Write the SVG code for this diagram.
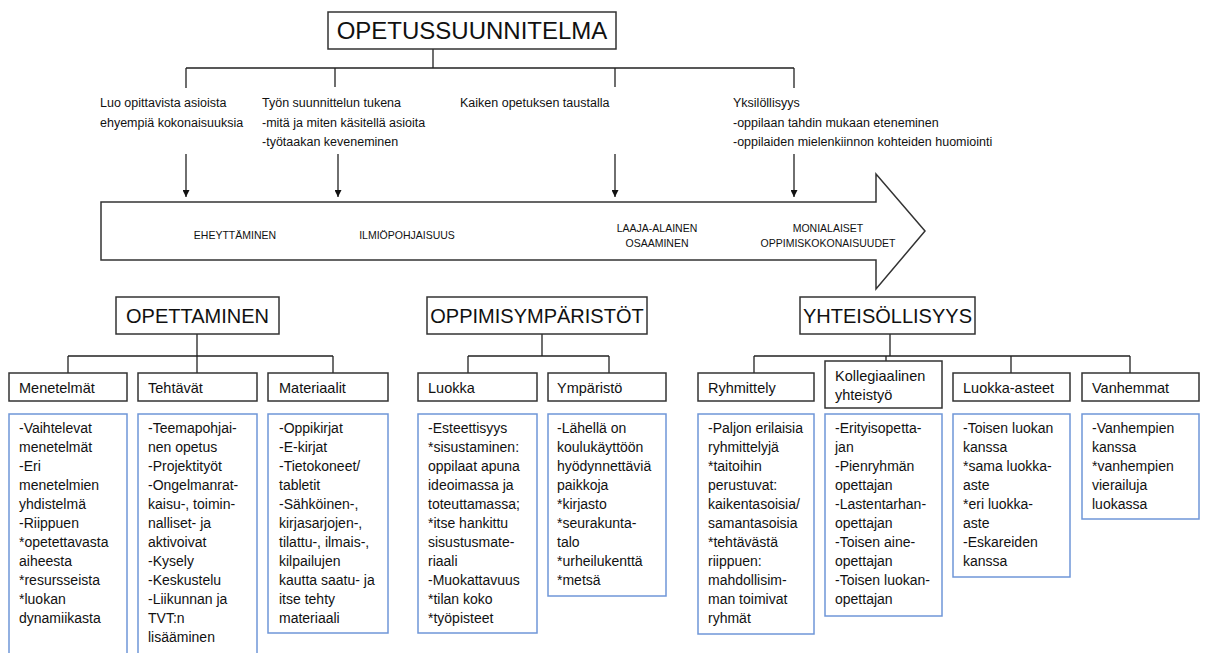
<svg xmlns="http://www.w3.org/2000/svg" width="1211" height="653" viewBox="0 0 1211 653">
  <style>
    text { font-family: "Liberation Sans", Arial, sans-serif; fill: #111; }
    .title { font-size: 24px; }
    .big { font-size: 20px; }
    .note { font-size: 12.5px; }
    .band { font-size: 10.5px; }
    .head { font-size: 14.5px; }
    .item { font-size: 14px; }
    .box { fill: #fff; stroke: #333; stroke-width: 1.5; }
    .list { fill: #fff; stroke: #6f96d8; stroke-width: 1.5; }
    .wire { fill: none; stroke: #222; stroke-width: 1.3; }
  </style>
  <defs>
    <marker id="tip" viewBox="0 0 10 10" refX="10" refY="5" markerWidth="7" markerHeight="7" markerUnits="userSpaceOnUse" orient="auto">
      <path d="M0,0 L10,5 L0,10 z" fill="#111"/>
    </marker>
  </defs>

  <rect width="1211" height="653" fill="#fff"/>

  <!-- connectors -->
  <g id="connectors">
    <!-- curriculum to the four notes -->
    <path class="wire" d="M433,49 V68 M186,68 H794 M186,68 V88 M335,68 V87 M615,68 V87 M794,68 V88"/>
    <!-- notes down to the band -->
    <path class="wire" d="M186,154 V197" marker-end="url(#tip)"/>
    <path class="wire" d="M338,154 V197" marker-end="url(#tip)"/>
    <path class="wire" d="M615,154 V197" marker-end="url(#tip)"/>
    <path class="wire" d="M794,154 V197" marker-end="url(#tip)"/>
    <!-- teaching tree -->
    <path class="wire" d="M197,334 V373 M68,356 H333 M68,356 V373 M333,356 V373"/>
    <!-- learning environments tree -->
    <path class="wire" d="M542,334 V356 M468,356 H609 M468,356 V373 M609,356 V373"/>
    <!-- community tree -->
    <path class="wire" d="M890,334 V356 M754,356 H1130 M754,356 V373 M886,356 V361 M1011,356 V373 M1130,356 V373"/>
  </g>

  <!-- top node -->
  <g id="opetussuunnitelma">
    <rect class="box" x="328" y="12" width="288" height="37"/>
    <text class="title" x="472" y="39" text-anchor="middle">OPETUSSUUNNITELMA</text>
  </g>

  <!-- notes under the curriculum -->
  <g id="note-eheyttaminen">
    <text class="note" x="100" y="106.5">Luo opittavista asioista</text>
    <text class="note" x="100" y="126.5">ehyempiä kokonaisuuksia</text>
  </g>
  <g id="note-ilmiopohjaisuus">
    <text class="note" x="262" y="106.5">Työn suunnittelun tukena</text>
    <text class="note" x="262" y="126.5">-mitä ja miten käsitellä asioita</text>
    <text class="note" x="262" y="146">-työtaakan keveneminen</text>
  </g>
  <g id="note-laaja-alainen">
    <text class="note" x="460" y="106.5">Kaiken opetuksen taustalla</text>
  </g>
  <g id="note-monialaiset">
    <text class="note" x="733" y="106.5">Yksilöllisyys</text>
    <text class="note" x="733" y="126.5">-oppilaan tahdin mukaan eteneminen</text>
    <text class="note" x="733" y="146">-oppilaiden mielenkiinnon kohteiden huomiointi</text>
  </g>

  <!-- wide arrow band -->
  <g id="band">
    <path d="M101,202 H876 V174 L925,231 L876,289 V260 H101 Z" fill="#fff" stroke="#333" stroke-width="1.5"/>
    <text class="band" x="235" y="239" text-anchor="middle">EHEYTTÄMINEN</text>
    <text class="band" x="407" y="239" text-anchor="middle">ILMIÖPOHJAISUUS</text>
    <text class="band" x="657" y="232" text-anchor="middle">LAAJA-ALAINEN</text>
    <text class="band" x="657" y="247" text-anchor="middle">OSAAMINEN</text>
    <text class="band" x="828" y="232" text-anchor="middle">MONIALAISET</text>
    <text class="band" x="828" y="247" text-anchor="middle">OPPIMISKOKONAISUUDET</text>
  </g>

  <!-- second level -->
  <g id="opettaminen">
    <rect class="box" x="116" y="297" width="163" height="37"/>
    <text class="big" x="197.5" y="323" text-anchor="middle">OPETTAMINEN</text>
  </g>
  <g id="oppimisymparistot">
    <rect class="box" x="427" y="297" width="220" height="37"/>
    <text class="big" x="537" y="323" text-anchor="middle">OPPIMISYMPÄRISTÖT</text>
  </g>
  <g id="yhteisollisyys">
    <rect class="box" x="800" y="297" width="175" height="37"/>
    <text class="big" x="887.5" y="323" text-anchor="middle">YHTEISÖLLISYYS</text>
  </g>

  <!-- teaching -->
  <g id="menetelmat">
    <rect class="box" x="9" y="373" width="118" height="28"/>
    <text class="head" x="19" y="393">Menetelmät</text>
    <rect class="list" x="9" y="414" width="118" height="250"/>
    <text class="item" x="19" y="433">-Vaihtelevat<tspan x="19" dy="19">menetelmät</tspan><tspan x="19" dy="19">-Eri</tspan><tspan x="19" dy="19">menetelmien</tspan><tspan x="19" dy="19">yhdistelmä</tspan><tspan x="19" dy="19">-Riippuen</tspan><tspan x="19" dy="19">*opetettavasta</tspan><tspan x="19" dy="19">aiheesta</tspan><tspan x="19" dy="19">*resursseista</tspan><tspan x="19" dy="19">*luokan</tspan><tspan x="19" dy="19">dynamiikasta</tspan></text>
  </g>
  <g id="tehtavat">
    <rect class="box" x="138" y="373" width="119" height="28"/>
    <text class="head" x="148" y="393">Tehtävät</text>
    <rect class="list" x="138" y="414" width="119" height="250"/>
    <text class="item" x="148" y="433">-Teemapohjai-<tspan x="148" dy="19">nen opetus</tspan><tspan x="148" dy="19">-Projektityöt</tspan><tspan x="148" dy="19">-Ongelmanrat-</tspan><tspan x="148" dy="19">kaisu-, toimin-</tspan><tspan x="148" dy="19">nalliset- ja</tspan><tspan x="148" dy="19">aktivoivat</tspan><tspan x="148" dy="19">-Kysely</tspan><tspan x="148" dy="19">-Keskustelu</tspan><tspan x="148" dy="19">-Liikunnan ja</tspan><tspan x="148" dy="19">TVT:n</tspan><tspan x="148" dy="19">lisääminen</tspan></text>
  </g>
  <g id="materiaalit">
    <rect class="box" x="268" y="373" width="120" height="28"/>
    <text class="head" x="279" y="393">Materiaalit</text>
    <rect class="list" x="268" y="414" width="120" height="219"/>
    <text class="item" x="279" y="433">-Oppikirjat<tspan x="279" dy="19">-E-kirjat</tspan><tspan x="279" dy="19">-Tietokoneet/</tspan><tspan x="279" dy="19">tabletit</tspan><tspan x="279" dy="19">-Sähköinen-,</tspan><tspan x="279" dy="19">kirjasarjojen-,</tspan><tspan x="279" dy="19">tilattu-, ilmais-,</tspan><tspan x="279" dy="19">kilpailujen</tspan><tspan x="279" dy="19">kautta saatu- ja</tspan><tspan x="279" dy="19">itse tehty</tspan><tspan x="279" dy="19">materiaali</tspan></text>
  </g>

  <!-- learning environments -->
  <g id="luokka">
    <rect class="box" x="418" y="373" width="119" height="28"/>
    <text class="head" x="428" y="393">Luokka</text>
    <rect class="list" x="418" y="414" width="119" height="219"/>
    <text class="item" x="428" y="433">-Esteettisyys<tspan x="428" dy="19">*sisustaminen:</tspan><tspan x="428" dy="19">oppilaat apuna</tspan><tspan x="428" dy="19">ideoimassa ja</tspan><tspan x="428" dy="19">toteuttamassa;</tspan><tspan x="428" dy="19">*itse hankittu</tspan><tspan x="428" dy="19">sisustusmate-</tspan><tspan x="428" dy="19">riaali</tspan><tspan x="428" dy="19">-Muokattavuus</tspan><tspan x="428" dy="19">*tilan koko</tspan><tspan x="428" dy="19">*työpisteet</tspan></text>
  </g>
  <g id="ymparisto">
    <rect class="box" x="548" y="373" width="118" height="28"/>
    <text class="head" x="557" y="393">Ympäristö</text>
    <rect class="list" x="548" y="414" width="118" height="182"/>
    <text class="item" x="557" y="433">-Lähellä on<tspan x="557" dy="19">koulukäyttöön</tspan><tspan x="557" dy="19">hyödynnettäviä</tspan><tspan x="557" dy="19">paikkoja</tspan><tspan x="557" dy="19">*kirjasto</tspan><tspan x="557" dy="19">*seurakunta-</tspan><tspan x="557" dy="19">talo</tspan><tspan x="557" dy="19">*urheilukenttä</tspan><tspan x="557" dy="19">*metsä</tspan></text>
  </g>

  <!-- community -->
  <g id="ryhmittely">
    <rect class="box" x="698" y="373" width="116" height="28"/>
    <text class="head" x="708" y="393">Ryhmittely</text>
    <rect class="list" x="698" y="414" width="116" height="220"/>
    <text class="item" x="708" y="433">-Paljon erilaisia<tspan x="708" dy="19">ryhmittelyjä</tspan><tspan x="708" dy="19">*taitoihin</tspan><tspan x="708" dy="19">perustuvat:</tspan><tspan x="708" dy="19">kaikentasoisia/</tspan><tspan x="708" dy="19">samantasoisia</tspan><tspan x="708" dy="19">*tehtävästä</tspan><tspan x="708" dy="19">riippuen:</tspan><tspan x="708" dy="19">mahdollisim-</tspan><tspan x="708" dy="19">man toimivat</tspan><tspan x="708" dy="19">ryhmät</tspan></text>
  </g>
  <g id="kollegiaalinen">
    <rect class="box" x="825" y="361" width="117" height="47"/>
    <text class="head" x="835" y="381">Kollegiaalinen</text>
    <text class="head" x="835" y="400">yhteistyö</text>
    <rect class="list" x="825" y="414" width="117" height="202"/>
    <text class="item" x="835" y="433">-Erityisopetta-<tspan x="835" dy="19">jan</tspan><tspan x="835" dy="19">-Pienryhmän</tspan><tspan x="835" dy="19">opettajan</tspan><tspan x="835" dy="19">-Lastentarhan-</tspan><tspan x="835" dy="19">opettajan</tspan><tspan x="835" dy="19">-Toisen aine-</tspan><tspan x="835" dy="19">opettajan</tspan><tspan x="835" dy="19">-Toisen luokan-</tspan><tspan x="835" dy="19">opettajan</tspan></text>
  </g>
  <g id="luokka-asteet">
    <rect class="box" x="953" y="373" width="117" height="28"/>
    <text class="head" x="963" y="393">Luokka-asteet</text>
    <rect class="list" x="953" y="414" width="117" height="163"/>
    <text class="item" x="963" y="433">-Toisen luokan<tspan x="963" dy="19">kanssa</tspan><tspan x="963" dy="19">*sama luokka-</tspan><tspan x="963" dy="19">aste</tspan><tspan x="963" dy="19">*eri luokka-</tspan><tspan x="963" dy="19">aste</tspan><tspan x="963" dy="19">-Eskareiden</tspan><tspan x="963" dy="19">kanssa</tspan></text>
  </g>
  <g id="vanhemmat">
    <rect class="box" x="1082" y="373" width="117" height="28"/>
    <text class="head" x="1092" y="393">Vanhemmat</text>
    <rect class="list" x="1082" y="414" width="117" height="105"/>
    <text class="item" x="1092" y="433">-Vanhempien<tspan x="1092" dy="19">kanssa</tspan><tspan x="1092" dy="19">*vanhempien</tspan><tspan x="1092" dy="19">vierailuja</tspan><tspan x="1092" dy="19">luokassa</tspan></text>
  </g>
</svg>
